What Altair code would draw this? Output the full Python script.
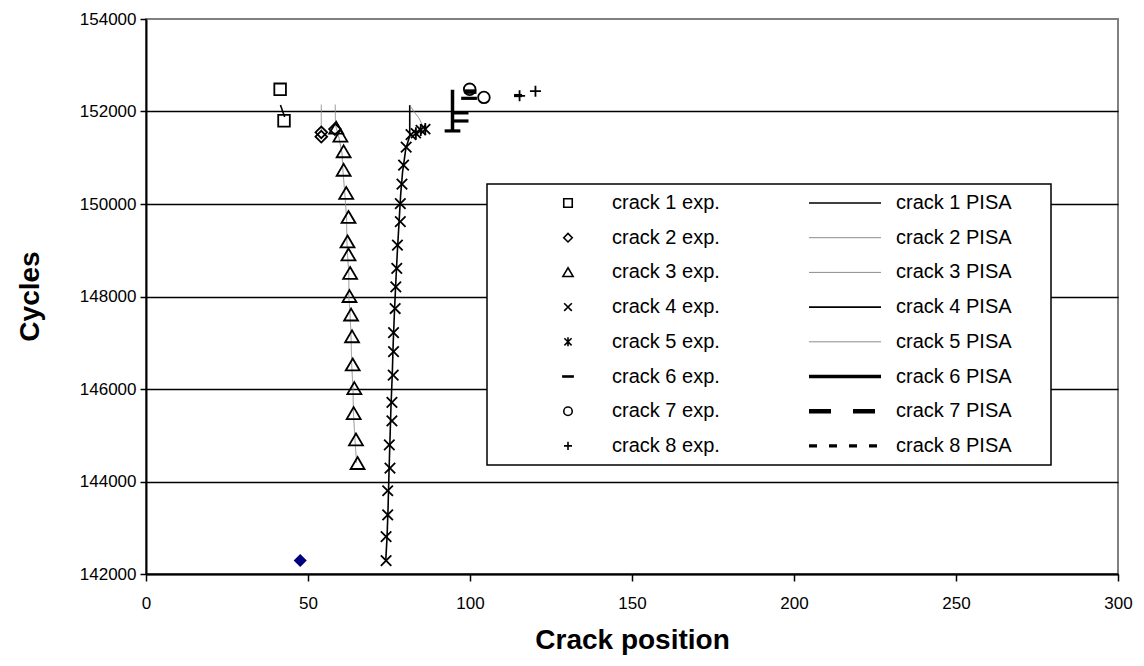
import altair as alt
import pandas as pd

# ---------------- data ----------------
exp_names = ["crack 1 exp.", "crack 2 exp.", "crack 3 exp.", "crack 4 exp.",
             "crack 5 exp.", "crack 6 exp.", "crack 7 exp.", "crack 8 exp."]
pisa_names = ["crack 1 PISA", "crack 2 PISA", "crack 3 PISA", "crack 4 PISA",
              "crack 5 PISA", "crack 6 PISA", "crack 7 PISA", "crack 8 PISA"]

c1_exp_x = [41.4, 42.6]
c1_exp_y = [152480, 151800]
c2_exp_x = [54.1, 54.1, 58.3]
c2_exp_y = [151550, 151455, 151620]
c3_exp_x = [58.7, 60.0, 61.0, 61.0, 61.8, 62.5, 62.2, 62.5, 63.0, 62.8, 63.3,
            63.6, 63.8, 64.3, 64.1, 64.8, 65.3]
c3_exp_y = [151640, 151470, 151130, 150730, 150230, 149710, 149180, 148900,
            148500, 148000, 147600, 147130, 146520, 146010, 145470, 144900, 144390]
c4_exp_x = [74.1, 74.1, 74.6, 74.6, 75.3, 75.1, 75.9, 75.9, 76.3, 76.4, 76.4,
            76.9, 77.1, 77.4, 77.6, 78.5, 78.5, 79.0, 79.5, 80.3, 81.8]
c4_exp_y = [142290, 142810, 143280, 143800, 144290, 144790, 145310, 145710,
            146300, 146810, 147220, 147740, 148210, 148610, 149110, 149620,
            150010, 150430, 150840, 151230, 151500]
c5_exp_x = [83.3, 84.8, 86.2]
c5_exp_y = [151530, 151600, 151620]
c6_exp_x = [94.6, 97.1, 97.1, 99.7]
c6_exp_y = [151580, 151795, 151970, 152285]
c7_exp_x = [99.9, 104.3]
c7_exp_y = [152480, 152305]
c8_exp_x = [115.3, 120.2]
c8_exp_y = [152340, 152440]

p1_x = [41.5, 42.8]
p1_y = [152140, 151880]
p2_x = [54.1, 54.1]
p2_y = [152150, 151600]
p3_x = [58.4, 58.5, 59.5, 60.5, 60.8, 61.4, 61.9, 62.0, 62.2, 62.6, 62.6, 63.0,
        63.3, 63.5, 63.9, 64.0, 64.5, 65.0]
p3_y = [152150, 151700, 151450, 151100, 150700, 150200, 149700, 149200, 148900,
        148500, 148000, 147600, 147100, 146500, 146000, 145500, 144900, 144400]
p4_x = [74.0, 74.4, 74.7, 75.0, 75.3, 75.6, 76.0, 76.3, 76.7, 77.1, 77.6, 78.1,
        78.6, 79.2, 80.2, 81.4, 81.4]
p4_y = [142290, 142800, 143400, 144200, 144900, 145600, 146300, 147000, 147700,
        148300, 149000, 149600, 150200, 150700, 151200, 151470, 152140]
p5_x = [81.4, 82.7, 84.3, 85.3, 86.0]
p5_y = [152140, 152000, 151850, 151710, 151620]
p6_x = [94.6, 94.6]
p6_y = [152470, 151580]
p7_x = [98.3, 102.0]
p7_y = [152430, 152430]
p8_x = [113.6, 116.8]
p8_y = [152345, 152345]

extra_x = [47.6]
extra_y = [142290]

x_ticks = [0, 50, 100, 150, 200, 250, 300]
y_ticks = [142000, 144000, 146000, 148000, 150000, 152000, 154000]

# ---------------- styles ----------------
shape_paths = [
    "square",
    "diamond",
    "M0,-1.1L1.2,0.95L-1.2,0.95Z",
    "M-0.9,-0.9L0.9,0.9M-0.9,0.9L0.9,-0.9",
    "M-0.85,-0.85L0.85,0.85M-0.85,0.85L0.85,-0.85M0,-1.05L0,1.05",
    "M-1.2,-0.12H1.2V0.12H-1.2Z",
    "circle",
    "M-0.95,0H0.95M0,-0.95V0.95",
]
line_colors = ["black", "#8c8c8c", "#8c8c8c", "black", "#8c8c8c", "black", "black", "black"]
line_dashes = [[1, 0], [1, 0], [1, 0], [1, 0], [1, 0], [1, 0], [22, 22], [8, 12]]
line_widths = [1.6, 1, 1, 1.6, 1, 3.5, 4.5, 3.2]

FONT = "Liberation Sans"

# ---------------- tables ----------------
exp_sets = [(c1_exp_x, c1_exp_y), (c2_exp_x, c2_exp_y), (c3_exp_x, c3_exp_y),
            (c4_exp_x, c4_exp_y), (c5_exp_x, c5_exp_y), (c6_exp_x, c6_exp_y),
            (c7_exp_x, c7_exp_y), (c8_exp_x, c8_exp_y)]
pisa_sets = [(p1_x, p1_y), (p2_x, p2_y), (p3_x, p3_y), (p4_x, p4_y),
             (p5_x, p5_y), (p6_x, p6_y), (p7_x, p7_y), (p8_x, p8_y)]

pts_rows = []
for name, (xs, ys) in zip(exp_names, exp_sets):
    for xv, yv in zip(xs, ys):
        pts_rows.append({"x": xv, "y": yv, "exp": name})
pts = pd.DataFrame(pts_rows)

ln_rows = []
for name, (xs, ys) in zip(pisa_names, pisa_sets):
    for i, (xv, yv) in enumerate(zip(xs, ys)):
        ln_rows.append({"x": xv, "y": yv, "pisa": name, "idx": i})
lns = pd.DataFrame(ln_rows)

extra = pd.DataFrame({"x": extra_x, "y": extra_y})

# ---------------- encodings ----------------
X = alt.X("x:Q",
          scale=alt.Scale(domain=[0, 300], nice=False, zero=False),
          axis=alt.Axis(values=x_ticks, format="d", title="Crack position",
                        titleFontSize=28, titleFontWeight="bold", titleY=66,
                        titleBaseline="middle", labelFontSize=17, labelPadding=14,
                        tickSize=7, tickWidth=1.5, tickColor="black",
                        domainColor="black", domainWidth=2, grid=False,
                        labelFlush=False, labelOverlap=False))
Y = alt.Y("y:Q",
          scale=alt.Scale(domain=[142000, 154000], nice=False, zero=False),
          axis=alt.Axis(values=y_ticks, format="d", title="Cycles",
                        titleFontSize=28, titleFontWeight="bold",
                        titleX=-116, titleY=277, titleAngle=270,
                        titleAlign="center", titleBaseline="middle",
                        labelFontSize=17, labelPadding=4, tickSize=6,
                        tickWidth=1.5, tickColor="black",
                        domainColor="black", domainWidth=2,
                        grid=True, gridColor="black", gridWidth=1.5,
                        gridOpacity={"condition": {"test": "datum.value >= 154000", "value": 0},
                                     "value": 1},
                        labelOverlap=False))

leg_exp = alt.Legend(title=None, orient="none", legendX=412, legendY=174,
                     labelFont=FONT, labelFontSize=20, labelColor="black",
                     labelOffset=34, rowPadding=14.7, padding=0,
                     symbolSize=72, symbolStrokeWidth=1.6,
                     symbolStrokeColor="black", labelLimit=0)
leg_pisa = alt.Legend(title=None, orient="none", legendX=689, legendY=174,
                      labelFont=FONT, labelFontSize=20, labelColor="black",
                      labelOffset=41, rowPadding=14.7, padding=0,
                      symbolSize=81, symbolType="M-8,0H8", labelLimit=0)

lines = alt.Chart(lns).mark_line(strokeCap="butt", strokeJoin="round").encode(
    x=X, y=Y,
    order=alt.Order("idx:Q"),
    color=alt.Color("pisa:N", scale=alt.Scale(domain=pisa_names, range=line_colors), legend=leg_pisa),
    strokeDash=alt.StrokeDash("pisa:N", scale=alt.Scale(domain=pisa_names, range=line_dashes), legend=leg_pisa),
    strokeWidth=alt.StrokeWidth("pisa:N", scale=alt.Scale(type="ordinal", domain=pisa_names, range=line_widths), legend=leg_pisa),
)

points = alt.Chart(pts).mark_point(filled=False, color="black", size=135,
                                   strokeWidth=1.8, opacity=1).encode(
    x=X, y=Y,
    shape=alt.Shape("exp:N", scale=alt.Scale(domain=exp_names, range=shape_paths), legend=leg_exp),
)

extra_pt = alt.Chart(extra).mark_point(shape="diamond", filled=True, color="#000080",
                                       size=170, opacity=1).encode(x=X, y=Y)

legend_box = alt.Chart(alt.Data(values=[{}])).mark_rect(
    fill="white", stroke="black", strokeWidth=1.5).encode(
    x=alt.value(341), x2=alt.value(905), y=alt.value(165), y2=alt.value(446))

chart = alt.layer(lines, points, extra_pt, legend_box).properties(
    width=972, height=555,
    autosize=alt.AutoSizeParams(type="none"),
    padding={"left": 138, "top": 11, "right": 18, "bottom": 84},
    background="white",
).configure_view(stroke="#808080", strokeWidth=2).configure_axis(
    labelFont=FONT, titleFont=FONT, labelColor="black", titleColor="black"
)

chart.save("out.html", embed_options={"renderer": "svg", "actions": False})
